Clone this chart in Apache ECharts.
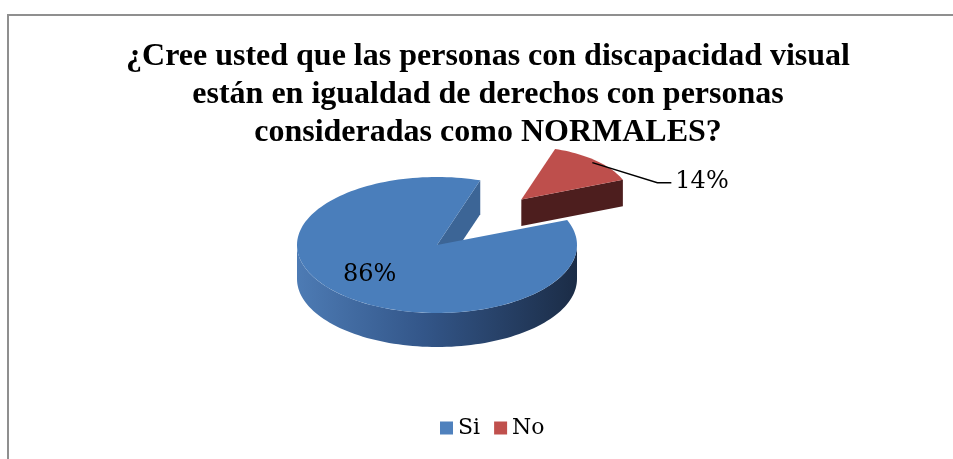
<!DOCTYPE html>
<html>
<head>
<meta charset="utf-8">
<script src="https://cdn.jsdelivr.net/npm/echarts@6/dist/echarts.min.js"></script>
<style>
html,body{margin:0;padding:0;background:#fff;}
#chart{width:953px;height:459px;}
</style>
</head>
<body>
<div id="chart"></div>
<script>
// ---- data ----
const titleLines = ['¿Cree usted que las personas con discapacidad visual', 'están en igualdad de derechos con personas', 'consideradas como NORMALES?'];
const categories = ['Si', 'No'];
const values = [86, 14];
const labels = ['86%', '14%'];

// ---- layout / style ----
const CX = 437, CY = 245, RX = 140, RY = 68, DEPTH = 34;
const START = 72;              // degrees, counter-clockwise from east
const explode = [0, 0.88];
const scaleF = [1, 0.78];
const topColors = ['#4a7ebb', '#be4f4c'];
const legendColors = ['#4f81bd', '#c0504d'];
const cutColors = ['#3c6596', '#4d1e1e'];

const total = values.reduce((a, b) => a + b, 0);
function sliceAngles(i) {
  let a = START;
  for (let k = 0; k < i; k++) a += values[k] / total * 360;
  return [a, a + values[i] / total * 360];
}
const rad = d => d * Math.PI / 180;

function buildSlice(i) {
  const [a0, a1] = sliceAngles(i);
  const mid = (a0 + a1) / 2;
  const s = scaleF[i];
  const rx = RX * s, ry = RY * s, d = DEPTH * s;
  const cx = CX + explode[i] * RX * Math.cos(rad(mid));
  const cy = CY - explode[i] * RY * Math.sin(rad(mid)) - (i === 1 ? 2 : 0);
  const pt = (ang, r, dz) => [cx + r * rx * Math.cos(rad(ang)), cy - r * ry * Math.sin(rad(ang)) + (dz || 0)];
  const arc = (lo, hi, dz) => {
    const pts = [];
    const n = Math.max(2, Math.ceil((hi - lo) / 2));
    for (let k = 0; k <= n; k++) pts.push(pt(lo + (hi - lo) * k / n, 1, dz));
    return pts;
  };
  const children = [];
  // radial cut faces facing the viewer
  [[a0, a0 - 90], [a1, a1 + 90]].forEach(([ang, nrm]) => {
    if (Math.sin(rad(nrm)) < -0.01) {
      const r = pt(ang, 1, 0), rb = pt(ang, 1, d);
      children.push({type: 'polygon', shape: {points: [[cx, cy], r, rb, [cx, cy + d]]},
        style: {fill: cutColors[i]}});
    }
  });
  // curved outer wall (front half)
  for (let base = -360; base <= 360; base += 360) {
    const lo = Math.max(a0, 180 + base), hi = Math.min(a1, 360 + base);
    if (hi > lo) {
      const top = arc(lo, hi, 0), bot = arc(lo, hi, d).reverse();
      const xl = cx - rx, xr = cx + rx;
      children.push({type: 'polygon', shape: {points: top.concat(bot)},
        style: {fill: {type: 'linear', x: xl, y: 0, x2: xr, y2: 0, global: true,
          colorStops: i === 0
            ? [{offset: 0, color: '#4d7bb4'}, {offset: 0.45, color: '#335689'}, {offset: 1, color: '#1b2c46'}]
            : [{offset: 0, color: '#8a3533'}, {offset: 1, color: '#3e1717'}]}}});
    }
  }
  // top face
  children.push({type: 'polygon', shape: {points: [[cx, cy]].concat(arc(a0, a1, 0))},
    style: {fill: topColors[i]}});
  // labels
  if (i === 0) {
    const p = pt(mid, 0.66, 0);
    children.push({type: 'text', x: p[0] - 4, y: p[1] - 3, style: {text: labels[i], fill: '#000',
      font: '24px "DejaVu Serif"', align: 'center', verticalAlign: 'middle'}});
  } else {
    const p = pt(mid, 0.95, 0);
    const q = [p[0] + 65, p[1] + 20], r = [q[0] + 14, q[1]];
    children.push({type: 'polyline', shape: {points: [p, q, r]}, style: {stroke: '#000', lineWidth: 1.5, fill: null}});
    children.push({type: 'text', x: r[0] + 4, y: r[1] - 1, style: {text: labels[i], fill: '#000',
      font: '24px "DejaVu Serif"', align: 'left', verticalAlign: 'middle'}});
  }
  return {type: 'group', children};
}

const chart = echarts.init(document.getElementById('chart'), null, {renderer: 'canvas'});
chart.setOption({
  animation: false,
  backgroundColor: '#fff',
  title: {
    text: titleLines.join('\n'),
    left: 488, top: 38, padding: 0, textAlign: 'center',
    textStyle: {fontFamily: 'Liberation Serif', fontWeight: 'bold', fontSize: 32, lineHeight: 38, color: '#000'}
  },
  legend: {
    data: categories, left: 440, top: 417, padding: 0, icon: 'rect', itemWidth: 13, itemHeight: 13, itemGap: 14,
    selectedMode: false,
    textStyle: {fontFamily: 'DejaVu Serif', fontSize: 22, color: '#000'}
  },
  graphic: [{type: 'rect', shape: {x: 8, y: 15, width: 1200, height: 1200},
    style: {fill: 'none', stroke: '#8f8f8f', lineWidth: 2}, silent: true}],
  series: [1, 0].map(i => ({
    type: 'custom', name: categories[i], coordinateSystem: 'none',
    z: i === 0 ? 3 : 2,
    itemStyle: {color: legendColors[i]},
    data: [values[i]],
    renderItem: () => buildSlice(i)
  }))
});
</script>
</body>
</html>
